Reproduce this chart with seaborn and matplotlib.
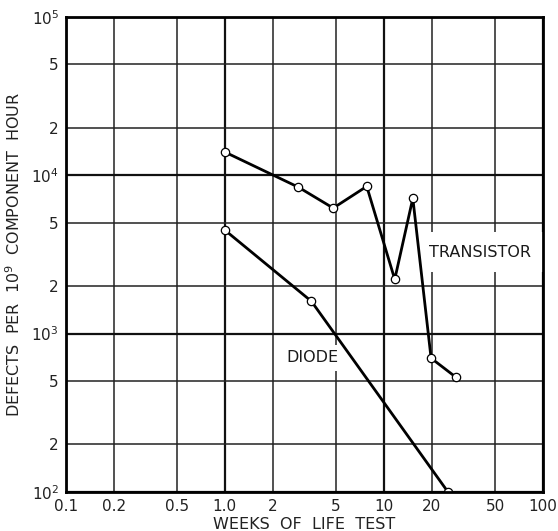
import pandas as pd
import seaborn as sns
import matplotlib.pyplot as plt
from matplotlib.ticker import FixedLocator, FixedFormatter

# Data (weeks of life test vs defects per 1e9 component hour)
transistor_weeks = [1.0, 2.9, 4.8, 7.8, 11.7, 15.2, 19.8, 28.4]
transistor_defects = [14000, 8400, 6200, 8500, 2200, 7150, 700, 530]
diode_weeks = [1.0, 3.5, 25.3]
diode_defects = [4500, 1600, 100]

x_major = [0.1, 1, 10, 100]
x_major_labels = ['0.1', '1.0', '10', '100']
x_minor = [0.2, 0.5, 2, 5, 20, 50]
x_minor_labels = ['0.2', '0.5', '2', '5', '20', '50']
y_major = [1e2, 1e3, 1e4, 1e5]
y_major_labels = ['10$^2$', '10$^3$', '10$^4$', '10$^5$']
y_minor = [200, 500, 2000, 5000, 20000, 50000]
y_minor_labels = ['2', '5', '2', '5', '2', '5']

data = pd.concat([
    pd.DataFrame({'Weeks': transistor_weeks, 'Defects': transistor_defects, 'Device': 'TRANSISTOR'}),
    pd.DataFrame({'Weeks': diode_weeks, 'Defects': diode_defects, 'Device': 'DIODE'}),
])

sns.set_style('white')
plt.rcParams['font.family'] = ['DejaVu Sans']

fig = plt.figure(figsize=(5.58, 5.31), dpi=100)
ax = fig.add_axes([0.118, 0.0734, 0.855, 0.895])

sns.lineplot(data=data, x='Weeks', y='Defects', units='Device', estimator=None,
             sort=False, color='black', linewidth=2.0, marker='o', markersize=6,
             markerfacecolor='white', markeredgecolor='black', markeredgewidth=0.9,
             ax=ax, zorder=3)

ax.set_xscale('log')
ax.set_yscale('log')
ax.set_xlim(0.1, 100)
ax.set_ylim(100, 1e5)

ax.xaxis.set_major_locator(FixedLocator(x_major))
ax.xaxis.set_major_formatter(FixedFormatter(x_major_labels))
ax.xaxis.set_minor_locator(FixedLocator(x_minor))
ax.xaxis.set_minor_formatter(FixedFormatter(x_minor_labels))
ax.yaxis.set_major_locator(FixedLocator(y_major))
ax.yaxis.set_major_formatter(FixedFormatter(y_major_labels))
ax.yaxis.set_minor_locator(FixedLocator(y_minor))
ax.yaxis.set_minor_formatter(FixedFormatter(y_minor_labels))

ax.tick_params(which='both', length=0, labelsize=11, pad=5, colors='#222222')
ax.grid(which='major', color='#111111', linewidth=1.6, zorder=0)
ax.grid(which='minor', color='#222222', linewidth=1.1, zorder=0)
ax.set_axisbelow(True)
for s in ax.spines.values():
    s.set_color('black')
    s.set_linewidth(2.0)
    s.set_zorder(4)

ax.text(40, 3260, 'TRANSISTOR', fontsize=11.5, ha='center', va='center', zorder=1.5,
        color='#1a1a1a', bbox=dict(facecolor='white', edgecolor='none', pad=9))
ax.text(3.55, 705, 'DIODE', fontsize=11.5, ha='center', va='center', zorder=1.5,
        color='#1a1a1a', bbox=dict(facecolor='white', edgecolor='none', pad=4))

ax.set_xlabel('WEEKS  OF  LIFE  TEST', fontsize=11.5, labelpad=2, color='#222222')
ax.set_ylabel('DEFECTS  PER  10$^9$  COMPONENT  HOUR', fontsize=11.5, labelpad=6, color='#222222')
ax.get_legend() and ax.get_legend().remove()

plt.savefig('out.png', dpi=100)
